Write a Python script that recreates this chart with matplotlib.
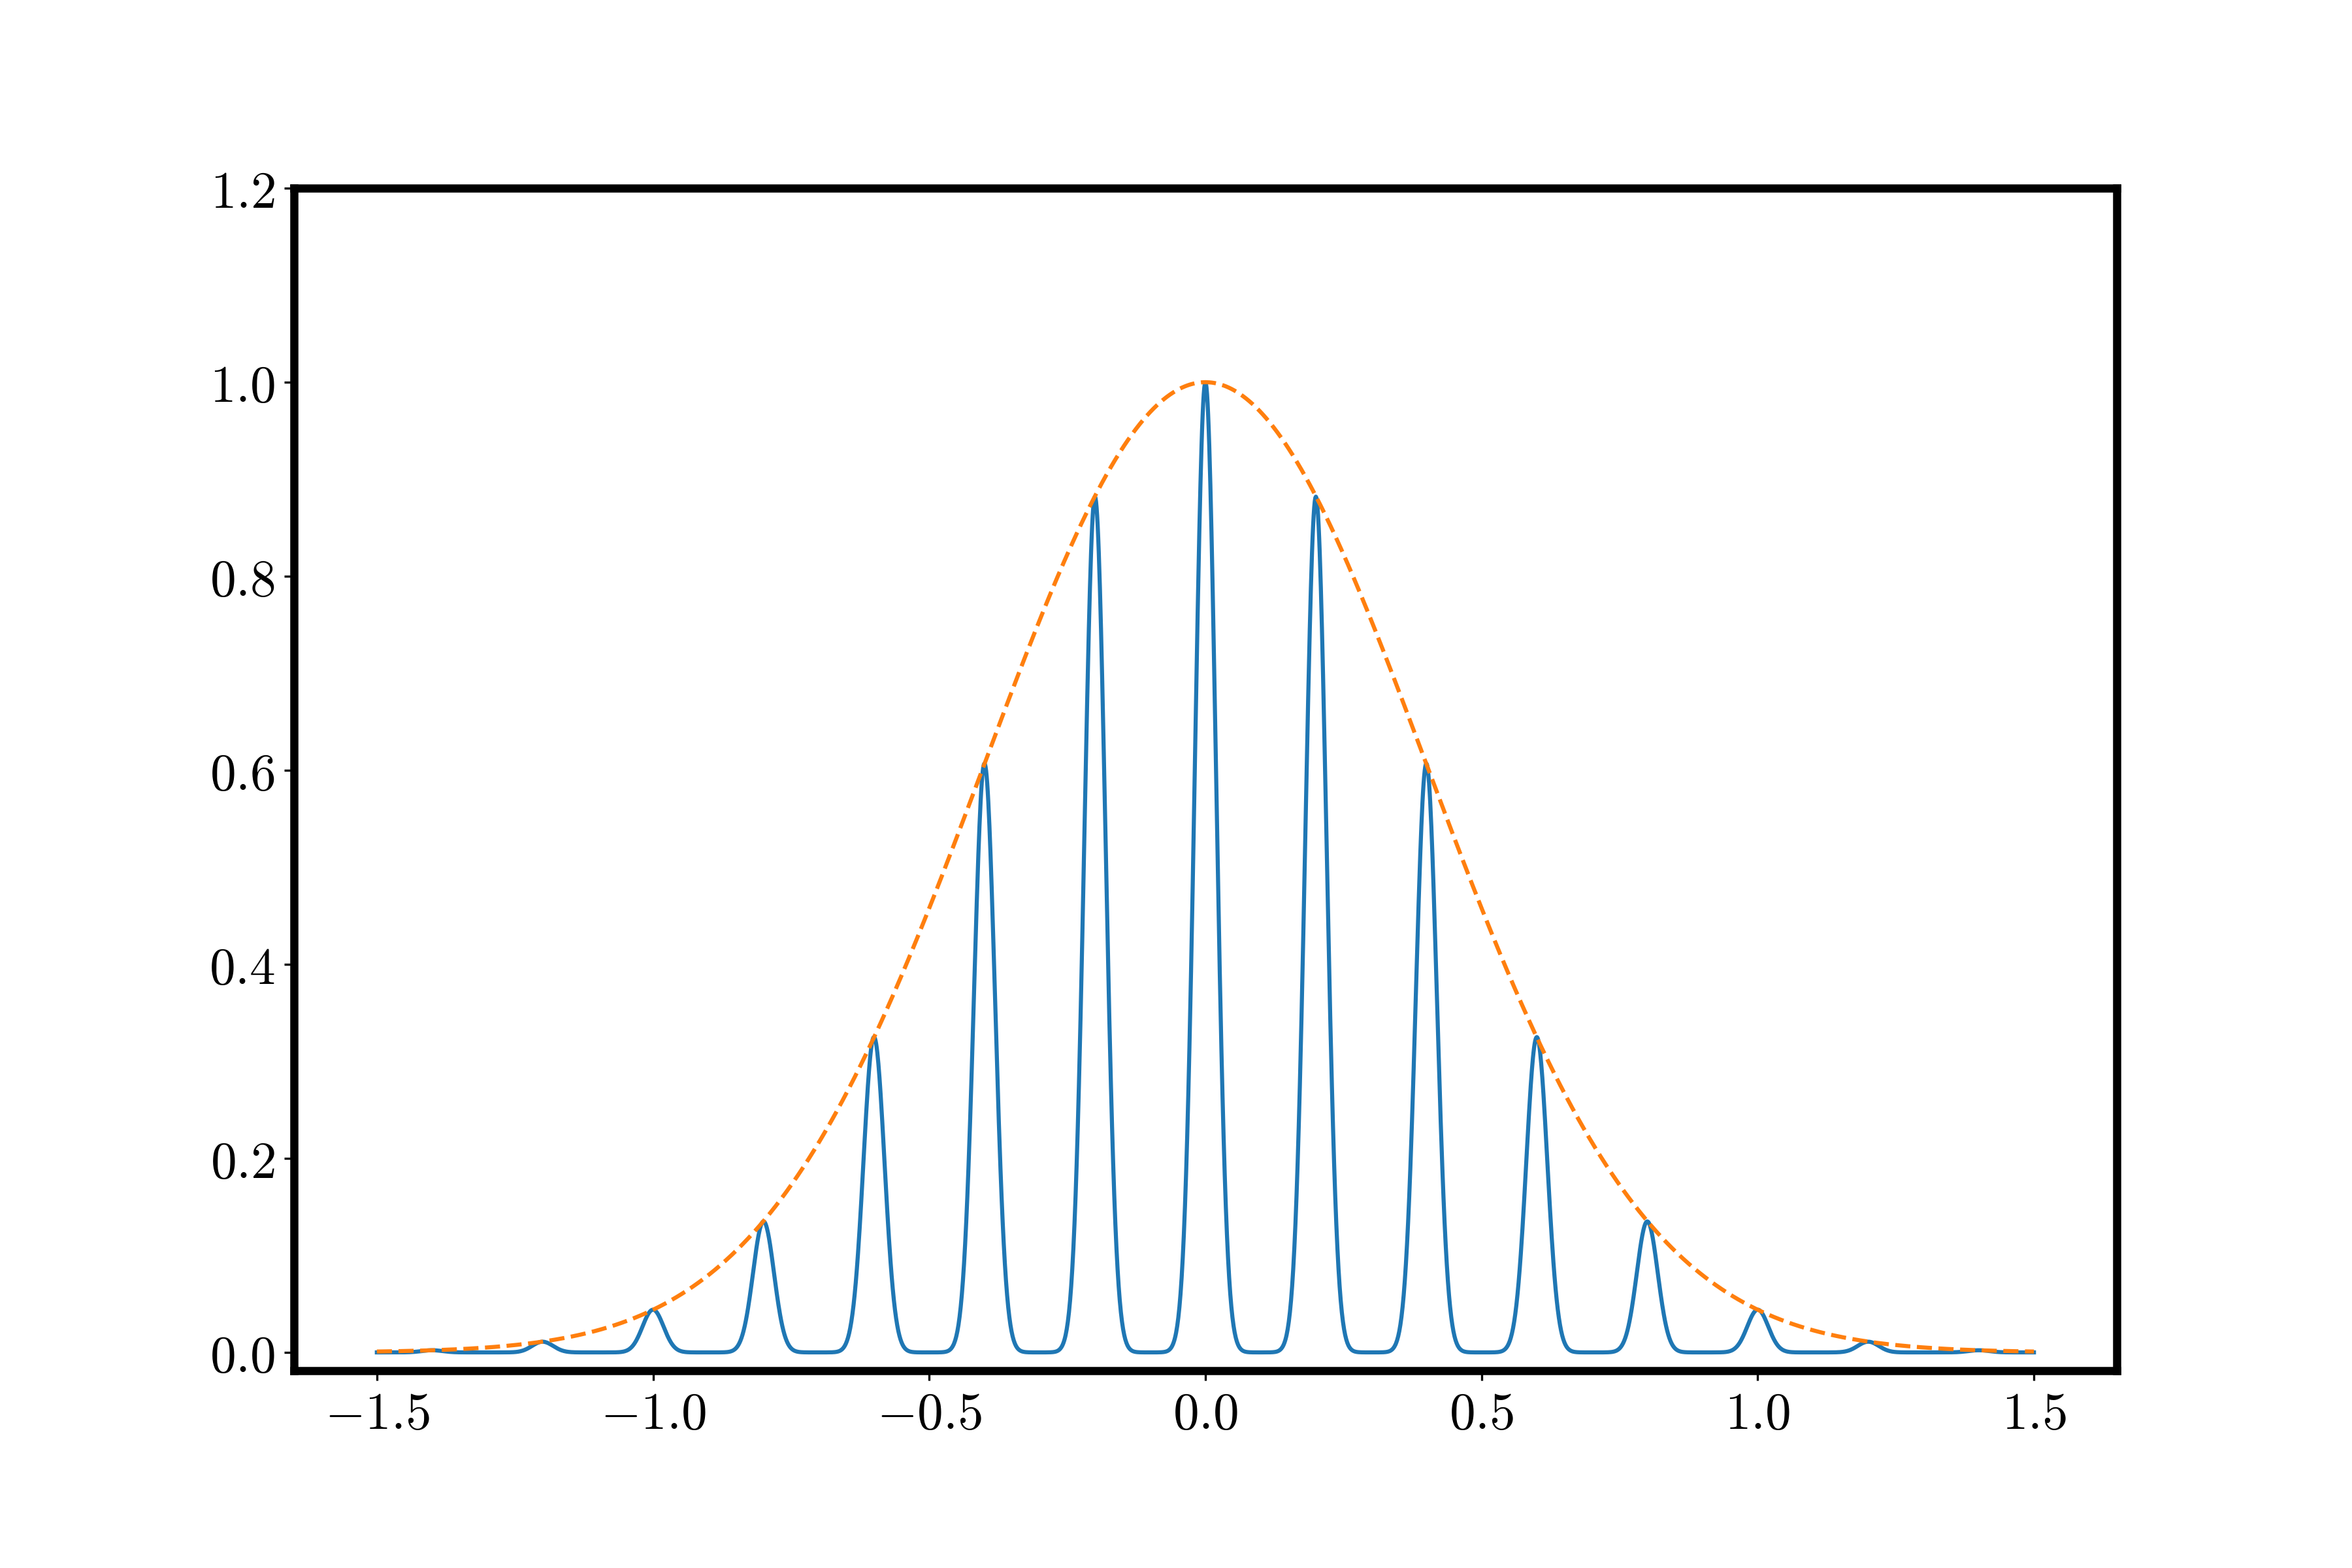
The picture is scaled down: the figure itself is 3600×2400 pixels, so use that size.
import numpy as np
import matplotlib
matplotlib.use("Agg")
import matplotlib.pyplot as plt

plt.rcParams['mathtext.fontset'] = 'cm'
plt.rcParams['font.family'] = ['DejaVu Serif']

# Peaks of the comb (positions and heights)
peak_centers = [-1.4, -1.2, -1.0, -0.8, -0.6, -0.4, -0.2, 0.0,
                0.2, 0.4, 0.6, 0.8, 1.0, 1.2, 1.4]
peak_heights = [0.0022, 0.011, 0.044, 0.135, 0.325, 0.607, 0.882, 1.0,
                0.882, 0.607, 0.325, 0.135, 0.044, 0.011, 0.0022]
peak_width = 0.019          # width of each narrow peak
envelope_width = 0.4        # width of the Gaussian envelope
x_range = [-1.5, 1.5]

xticks = [-1.5, -1.0, -0.5, 0.0, 0.5, 1.0, 1.5]
yticks = [0.0, 0.2, 0.4, 0.6, 0.8, 1.0, 1.2]

x = np.linspace(x_range[0], x_range[1], 3001)
comb = np.zeros_like(x)
for c, h in zip(peak_centers, peak_heights):
    comb += h * np.exp(-(x - c) ** 2 / (2 * peak_width ** 2))
envelope = np.exp(-x ** 2 / (2 * envelope_width ** 2))

fig, ax = plt.subplots(figsize=(12, 8), dpi=300)
fig.subplots_adjust(left=0.125, right=0.9, top=0.88, bottom=0.126)
ax.plot(x, comb, color='#1f77b4', lw=1.5)
ax.plot(x, envelope, color='#ff7f0e', lw=1.5, ls='--')

ax.set_ylim(-0.0186, 1.2)
ax.set_xlim(-1.65, 1.65)
ax.set_xticks(xticks)
ax.set_yticks(yticks)
ax.set_xticklabels([r'$%.1f$' % v for v in xticks])
ax.set_yticklabels([r'$%.1f$' % v for v in yticks])
ax.tick_params(labelsize=19)
for s in ax.spines.values():
    s.set_linewidth(3)

fig.savefig('out.png', dpi=300)
